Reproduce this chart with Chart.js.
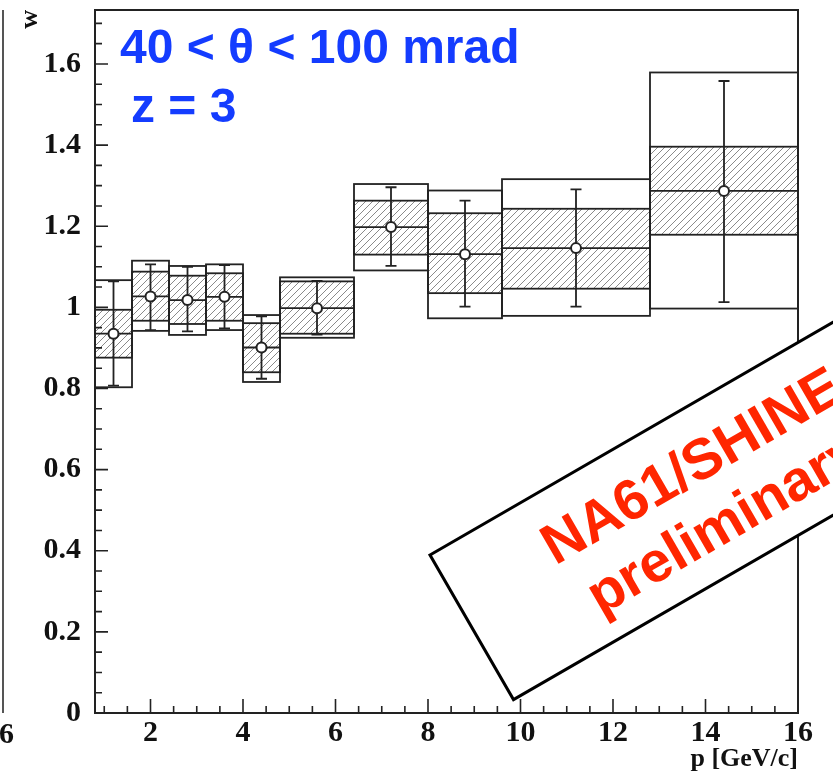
<!DOCTYPE html>
<html>
<head>
<meta charset="utf-8">
<script src="https://cdn.jsdelivr.net/npm/chart.js@4.4.0/dist/chart.umd.min.js"></script>
<style>
  body { margin: 0; background: #fff; }
</style>
</head>
<body>
<canvas id="wChart" width="833" height="779"></canvas>
<script>
// momentum bins [GeV/c]
var binLow    = [0.8, 1.6, 2.4, 3.2, 4.0, 4.8, 6.4, 8.0, 9.6, 12.8];
var binHigh   = [1.6, 2.4, 3.2, 4.0, 4.8, 6.4, 8.0, 9.6, 12.8, 16.0];
var pCenter   = [1.2, 2.0, 2.8, 3.6, 4.4, 5.6, 7.2, 8.8, 11.2, 14.4];
// measured w
var wValue    = [0.935, 1.027, 1.018, 1.026, 0.901, 0.998, 1.198, 1.131, 1.146, 1.287];
// error bars
var errLow    = [0.807, 0.944, 0.941, 0.948, 0.824, 0.933, 1.102, 1.002, 1.002, 1.013];
var errHigh   = [1.064, 1.106, 1.100, 1.104, 0.978, 1.065, 1.296, 1.263, 1.291, 1.558];
// hatched band
var sysLow    = [0.876, 0.967, 0.959, 0.967, 0.840, 0.935, 1.130, 1.035, 1.046, 1.179];
var sysHigh   = [0.994, 1.088, 1.078, 1.084, 0.961, 1.064, 1.263, 1.232, 1.243, 1.396];
// open outer box
var totLow    = [0.803, 0.942, 0.932, 0.944, 0.816, 0.925, 1.091, 0.973, 0.979, 0.997];
var totHigh   = [1.067, 1.115, 1.102, 1.106, 0.981, 1.074, 1.304, 1.288, 1.316, 1.579];

var xTickLabels = [2, 4, 6, 8, 10, 12, 14, 16];
var yTickLabels = [0, 0.2, 0.4, 0.6, 0.8, 1, 1.2, 1.4, 1.6];
var xMinorStep = 0.5, yMinorStep = 0.05;

var ink = '#222';
var serif = "'Liberation Serif', 'DejaVu Serif', serif";
var sans = "'Liberation Sans', Arial, sans-serif";

var ctx = document.getElementById('wChart').getContext('2d');

// diagonal hatch like ROOT style 3004
var hatch = (function() {
    var s = 7;
    var pc = document.createElement('canvas');
    pc.width = s; pc.height = s;
    var g = pc.getContext('2d');
    g.strokeStyle = '#8a8a8a';
    g.lineWidth = 1;
    g.beginPath();
    g.moveTo(-1, s + 1); g.lineTo(s + 1, -1);
    g.moveTo(-1, 1); g.lineTo(1, -1);
    g.moveTo(s - 1, s + 1); g.lineTo(s + 1, s - 1);
    g.stroke();
    return ctx.createPattern(pc, 'repeat');
})();

var boxPlugin = {
    id: 'boxes',
    beforeDatasetsDraw: function(chart) {
        var x = chart.scales.x, y = chart.scales.y, c = chart.ctx;
        c.save();
        c.strokeStyle = ink;
        for (var i = 0; i < binLow.length; i++) {
            var x0 = x.getPixelForValue(binLow[i]);
            var x1 = x.getPixelForValue(binHigh[i]);
            var s0 = y.getPixelForValue(sysLow[i]);
            var s1 = y.getPixelForValue(sysHigh[i]);
            c.fillStyle = hatch;
            c.fillRect(x0, s1, x1 - x0, s0 - s1);
            c.lineWidth = 1.8;
            c.strokeRect(x0, s1, x1 - x0, s0 - s1);

            var t0 = y.getPixelForValue(totLow[i]);
            var t1 = y.getPixelForValue(totHigh[i]);
            c.strokeRect(x0, t1, x1 - x0, t0 - t1);

            var yv = y.getPixelForValue(wValue[i]);
            c.beginPath();
            c.moveTo(x0, yv); c.lineTo(x1, yv);
            c.stroke();

            var xc = x.getPixelForValue(pCenter[i]);
            var e0 = y.getPixelForValue(errLow[i]);
            var e1 = y.getPixelForValue(errHigh[i]);
            c.lineWidth = 1.8;
            c.beginPath();
            c.moveTo(xc, e0); c.lineTo(xc, e1);
            c.moveTo(xc - 5.5, e0); c.lineTo(xc + 5.5, e0);
            c.moveTo(xc - 5.5, e1); c.lineTo(xc + 5.5, e1);
            c.stroke();
        }
        c.restore();
    },
    afterDraw: function(chart) {
        var x = chart.scales.x, y = chart.scales.y, c = chart.ctx;
        var a = chart.chartArea;
        c.save();
        c.strokeStyle = ink;
        c.lineWidth = 1.6;
        // ticks inside frame
        c.beginPath();
        var v, px, major;
        for (v = 1.0; v < 16.001; v += xMinorStep) {
            px = x.getPixelForValue(v);
            major = xTickLabels.indexOf(Math.round(v * 10) / 10) >= 0;
            c.moveTo(px, a.bottom); c.lineTo(px, a.bottom - (major ? 14 : 7));
        }
        for (v = 0; v < y.max; v += yMinorStep) {
            var r = Math.round(v * 100) / 100;
            px = y.getPixelForValue(r);
            major = yTickLabels.indexOf(r) >= 0;
            c.moveTo(a.left, px); c.lineTo(a.left + (major ? 13 : 7), px);
        }
        c.stroke();
        // frame
        c.lineWidth = 2;
        c.strokeRect(a.left, a.top, a.right - a.left, a.bottom - a.top);

        // edge of neighbouring pad
        c.strokeStyle = '#555';
        c.lineWidth = 2;
        c.beginPath();
        c.moveTo(3, 10); c.lineTo(3, 713);
        c.stroke();
        c.fillStyle = '#111';
        c.font = 'bold 30px ' + serif;
        c.textAlign = 'right';
        c.textBaseline = 'alphabetic';
        c.fillText('6', 14, 743);

        // selection label
        c.fillStyle = '#143cff';
        c.textAlign = 'left';
        c.font = 'bold 48px ' + sans;
        c.fillText('40 < \u03b8 < 100 mrad', 120, 63);
        c.fillText('z = 3', 131, 122);

        // preliminary stamp
        c.translate(430, 555);
        c.rotate(-Math.PI / 6);
        c.fillStyle = '#fff';
        c.fillRect(0, 0, 600, 167);
        c.strokeStyle = '#000';
        c.lineWidth = 3;
        c.strokeRect(0, 0, 600, 167);
        c.fillStyle = '#ff2600';
        c.font = 'bold 57px ' + sans;
        c.textAlign = 'center';
        c.fillText('NA61/SHINE', 271, 72);
        c.fillText('preliminary', 271, 138);
        c.restore();
    }
};

var points = pCenter.map(function(p, i) { return { x: p, y: wValue[i] }; });

var tickFont = { family: serif, weight: 'bold', size: 30 };

var wChart = new Chart(ctx, {
    type: 'scatter',
    data: {
        datasets: [{
            data: points,
            pointRadius: 5,
            pointBackgroundColor: '#fff',
            pointBorderColor: ink,
            pointBorderWidth: 2
        }]
    },
    options: {
        responsive: false,
        animation: false,
        layout: { padding: { top: 10, right: 35, left: 0, bottom: 0 } },
        plugins: {
            legend: { display: false },
            tooltip: { enabled: false }
        },
        scales: {
            x: {
                type: 'linear',
                min: 0.8,
                max: 16,
                grid: { display: false, drawTicks: false },
                border: { display: false },
                afterBuildTicks: function(s) { s.ticks = xTickLabels.map(function(v) { return { value: v }; }); },
                afterFit: function(s) { s.height = 66; s.paddingLeft = 0; s.paddingRight = 0; },
                ticks: { font: tickFont, color: '#111', padding: 2, maxRotation: 0, autoSkip: false,
                         callback: function(v) { return String(v); } },
                title: { display: true, text: 'p [GeV/c]', align: 'end', color: '#111',
                         font: { family: serif, weight: 'bold', size: 26 }, padding: { top: 0, bottom: 4 } }
            },
            y: {
                type: 'linear',
                min: 0,
                max: 1.733,
                grid: { display: false, drawTicks: false },
                border: { display: false },
                afterBuildTicks: function(s) { s.ticks = yTickLabels.map(function(v) { return { value: v }; }); },
                afterFit: function(s) { s.width = 95; s.paddingTop = 0; s.paddingBottom = 0; },
                ticks: { font: tickFont, color: '#111', padding: 14, autoSkip: false,
                         callback: function(v) { return String(v); } },
                title: { display: true, text: 'w', align: 'end', color: '#111',
                         font: { family: serif, weight: 'bold', size: 26 }, padding: { top: 15, bottom: 0 } }
            }
        }
    },
    plugins: [boxPlugin]
});
</script>
</body>
</html>
